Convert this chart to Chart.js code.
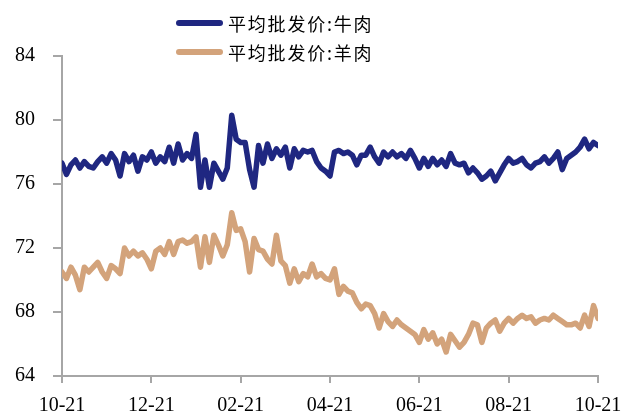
<!DOCTYPE html>
<html>
<head>
<meta charset="utf-8">
<script src="https://cdn.jsdelivr.net/npm/chart.js@4/dist/chart.umd.min.js"></script>
<style>
  html, body { margin: 0; padding: 0; background: #fff; }
  #wrap { position: relative; width: 627px; height: 418px; }
  #legend { position: absolute; left: 176px; top: 8px; font-family: "Noto Sans CJK SC", sans-serif; font-size: 18px; letter-spacing: 1.8px; color: #000; }
  .item { display: flex; align-items: center; height: 29px; }
  .swatch { width: 47px; height: 6px; border-radius: 3px; margin-right: 5px; }
</style>
</head>
<body>
<div id="wrap">
  <canvas id="chart" width="627" height="418"></canvas>
  <div id="legend"></div>
</div>
<script>
// Tick labels on the x axis (one every 20 samples)
const tickLabels = ["10-21", "12-21", "02-21", "04-21", "06-21", "08-21", "10-21"];
const seriesNames = ["平均批发价:牛肉", "平均批发价:羊肉"];
const seriesColors = ["#1f2781", "#d3a37b"];

// Average wholesale price, beef
const beef = [
  77.3, 76.6, 77.2, 77.5, 77.0, 77.4, 77.1, 77.0, 77.4, 77.7,
  77.3, 77.9, 77.5, 76.5, 77.9, 77.4, 77.8, 76.8, 77.7, 77.5,
  78.0, 77.3, 77.7, 77.4, 78.3, 77.3, 78.5, 77.5, 77.9, 77.6,
  79.1, 75.8, 77.5, 75.8, 77.3, 76.8, 76.3, 77.0, 80.3, 78.8,
  78.6, 78.6, 76.9, 75.8, 78.4, 77.3, 78.5, 77.6, 78.2, 77.8,
  78.3, 77.0, 78.2, 77.7, 78.1, 78.0, 78.1, 77.4, 77.0, 76.8,
  76.5, 78.0, 78.1, 77.9, 78.0, 77.8, 77.2, 77.8, 77.8, 78.3,
  77.7, 77.3, 78.0, 77.7, 78.0, 77.7, 77.9, 77.6, 78.1, 77.6,
  77.0, 77.6, 77.1, 77.6, 77.2, 77.5, 77.1, 77.9, 77.3, 77.2,
  77.3, 76.7, 77.0, 76.7, 76.3, 76.5, 76.8, 76.2, 76.7, 77.2,
  77.6, 77.3, 77.4, 77.6, 77.2, 77.0, 77.3, 77.4, 77.7, 77.3,
  77.6, 78.0, 76.9, 77.6, 77.8, 78.0, 78.3, 78.8, 78.2, 78.6,
  78.4
];

// Average wholesale price, lamb
const lamb = [
  70.5, 70.1, 70.8, 70.3, 69.4, 70.8, 70.5, 70.8, 71.1, 70.5,
  70.1, 70.9, 70.7, 70.4, 72.0, 71.5, 71.8, 71.5, 71.7, 71.3,
  70.7, 71.8, 72.0, 71.6, 72.4, 71.6, 72.4, 72.5, 72.3, 72.4,
  72.7, 70.8, 72.7, 71.1, 72.8, 72.2, 71.5, 72.2, 74.2, 73.1,
  73.2, 72.4, 70.5, 72.6, 71.9, 71.8, 71.3, 71.0, 72.8, 71.2,
  70.9, 69.8, 70.7, 69.9, 70.4, 70.2, 71.0, 70.2, 70.4, 70.1,
  70.0, 70.7, 69.1, 69.6, 69.3, 69.2, 68.6, 68.2, 68.5, 68.4,
  67.9, 67.0, 67.9, 67.4, 67.1, 67.5, 67.2, 67.0, 66.8, 66.6,
  66.1, 66.9, 66.3, 66.7, 66.0, 66.3, 65.5, 66.6, 66.2, 65.8,
  66.1, 66.6, 67.3, 67.2, 66.1, 67.0, 67.3, 67.5, 66.8, 67.3,
  67.6, 67.3, 67.6, 67.8, 67.6, 67.7, 67.3, 67.5, 67.6, 67.5,
  67.8, 67.6, 67.4, 67.2, 67.2, 67.3, 67.0, 67.8, 67.1, 68.4,
  67.6
];

const axisColor = "#a6a6a6";
const tickFont = { family: "'Liberation Serif', 'Times New Roman', serif", size: 20 };

// Legend as two stacked rows
const $legend = document.getElementById("legend");
seriesNames.forEach(function(name, i) {
  const row = document.createElement("div");
  row.className = "item";
  row.innerHTML = '<span class="swatch" style="background:' + seriesColors[i] + '"></span><span>' + name + '</span>';
  $legend.appendChild(row);
});

function toPoints(arr) {
  return arr.map(function(v, i) { return { x: i, y: v }; });
}

const ctx = document.getElementById("chart").getContext("2d");
new Chart(ctx, {
  type: "line",
  data: {
    datasets: [
      { label: seriesNames[0], data: toPoints(beef), borderColor: seriesColors[0], borderWidth: 5.5 },
      { label: seriesNames[1], data: toPoints(lamb), borderColor: seriesColors[1], borderWidth: 5.5 }
    ]
  },
  options: {
    responsive: false,
    animation: false,
    layout: { padding: { top: 56, right: 29, left: 0, bottom: 0 } },
    elements: {
      point: { radius: 0 },
      line: { tension: 0, borderJoinStyle: "round", borderCapStyle: "round" }
    },
    plugins: { legend: { display: false }, tooltip: { enabled: false } },
    scales: {
      x: {
        type: "linear",
        min: 0,
        max: beef.length - 1,
        afterFit: function(s) {
          s.height = 42;
          s.paddingLeft = 0;
          s.paddingRight = 0;
        },
        border: { color: axisColor, width: 2 },
        grid: { drawOnChartArea: false, color: axisColor, lineWidth: 2, tickLength: 7 },
        ticks: {
          stepSize: 20,
          color: "#000",
          font: tickFont,
          padding: 11,
          maxRotation: 0,
          callback: function(v) { return tickLabels[v / 20]; }
        }
      },
      y: {
        min: 64,
        max: 84,
        afterFit: function(s) { s.width = 62; },
        border: { color: axisColor, width: 2 },
        grid: { drawOnChartArea: false, color: axisColor, lineWidth: 2, tickLength: 9 },
        ticks: { stepSize: 4, color: "#000", font: tickFont, padding: 18 }
      }
    }
  }
});
</script>
</body>
</html>
